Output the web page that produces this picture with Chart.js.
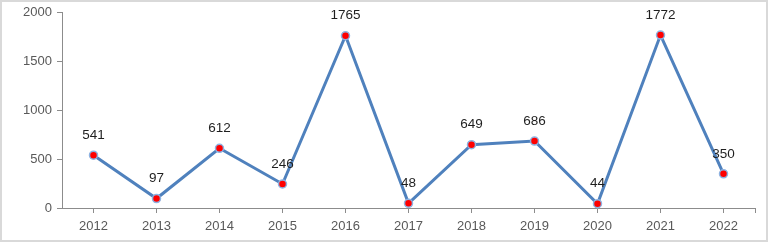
<!DOCTYPE html>
<html><head><meta charset="utf-8">
<script src="https://cdn.jsdelivr.net/npm/chart.js@4"></script>
<style>html,body{margin:0;padding:0;background:#fff}#wrap{width:768px;height:242px;position:relative}</style>
</head><body><div id="wrap"><canvas id="c" width="768" height="242"></canvas></div>
<script>
const categories = ['2012','2013','2014','2015','2016','2017','2018','2019','2020','2021','2022'];
const values = [541, 97, 612, 246, 1765, 48, 649, 686, 44, 1772, 350];
const yTicks = [0, 500, 1000, 1500, 2000];

const FONT = "'Liberation Sans', Arial, sans-serif";
const AXIS = '#8c8c8c';

const frame = {
  id: 'frame',
  beforeDraw(chart) {
    const ctx = chart.ctx;
    ctx.save();
    ctx.fillStyle = '#fff';
    ctx.fillRect(0, 0, chart.width, chart.height);
    ctx.strokeStyle = '#d9d9d9';
    ctx.lineWidth = 2;
    ctx.strokeRect(1, 1, chart.width - 2, chart.height - 2);
    ctx.restore();
  },
  afterDraw(chart) {
    const ctx = chart.ctx, a = chart.chartArea;
    ctx.save();
    ctx.strokeStyle = AXIS; ctx.lineWidth = 1;
    ctx.beginPath();
    ctx.moveTo(Math.round(a.right) + 0.5, a.bottom);
    ctx.lineTo(Math.round(a.right) + 0.5, a.bottom + 5);
    ctx.stroke();
    ctx.restore();
  }
};

const labels = {
  id: 'labels',
  afterDatasetsDraw(chart) {
    const ctx = chart.ctx;
    const meta = chart.getDatasetMeta(0);
    ctx.save();
    ctx.font = '13.5px ' + FONT;
    ctx.fillStyle = '#1f1f1f';
    ctx.textAlign = 'center';
    ctx.textBaseline = 'middle';
    meta.data.forEach((pt, i) => {
      ctx.fillText(String(values[i]), pt.x, pt.y - 20);
    });
    ctx.restore();
  }
};

new Chart(document.getElementById('c'), {
  type: 'line',
  data: {
    labels: categories,
    datasets: [{
      data: values,
      borderColor: '#4f81bd',
      borderWidth: 3,
      tension: 0,
      pointRadius: 4,
      pointBackgroundColor: '#ff0000',
      pointBorderColor: '#8db3e2',
      pointBorderWidth: 1.5,
      pointHoverRadius: 4,
      clip: false
    }]
  },
  options: {
    responsive: false,
    animation: false,
    events: [],
    layout: { padding: { left: 0, right: 13, top: 12, bottom: 0 } },
    plugins: { legend: { display: false }, tooltip: { enabled: false } },
    scales: {
      x: {
        type: 'category',
        offset: true,
        grid: { display: true, offset: false, drawOnChartArea: false, drawTicks: true, tickLength: 5, color: AXIS },
        border: { display: true, color: AXIS, width: 1 },
        ticks: { color: '#595959', font: { family: FONT, size: 13 }, padding: 6, maxRotation: 0, autoSkip: false },
        afterFit(s) { s.height = 34; }
      },
      y: {
        min: 0, max: 2000,
        afterBuildTicks(s) { s.ticks = yTicks.map(v => ({ value: v })); },
        grid: { display: true, drawOnChartArea: false, drawTicks: true, tickLength: 5, color: AXIS },
        border: { display: true, color: AXIS, width: 1 },
        ticks: { color: '#595959', font: { family: FONT, size: 13 }, padding: 5, callback: v => String(v) },
        afterFit(s) { s.width = 62; }
      }
    }
  },
  plugins: [frame, labels]
});
</script></body></html>
